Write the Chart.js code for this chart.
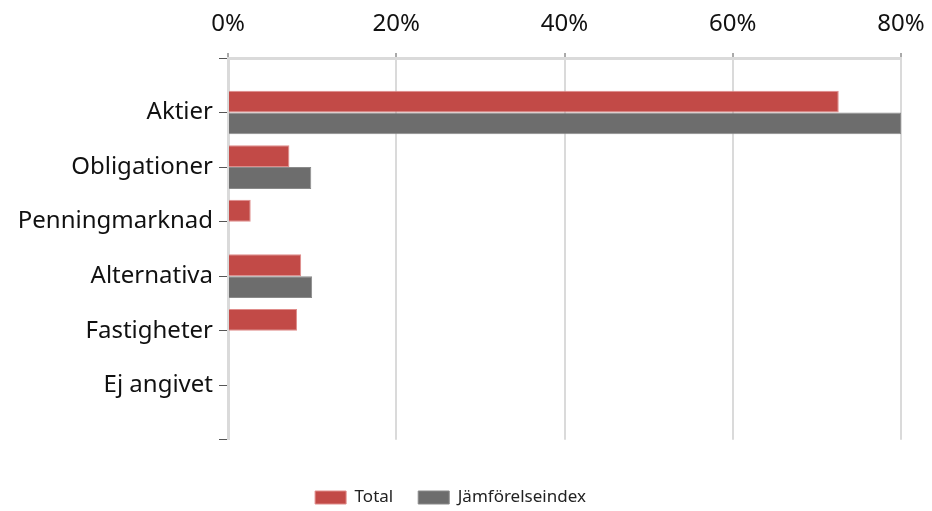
<!DOCTYPE html>
<html>
<head>
<meta charset="utf-8">
<script src="https://cdn.jsdelivr.net/npm/chart.js@4/dist/chart.umd.min.js"></script>
<style>
html,body{margin:0;padding:0;background:#fff;}
#wrap{width:932px;height:511px;position:relative;}
</style>
</head>
<body>
<div id="wrap"><canvas id="c" width="932" height="511"></canvas></div>
<script>
const categories = ["Aktier", "Obligationer", "Penningmarknad", "Alternativa", "Fastigheter", "Ej angivet"];
const totalValues = [72.6, 7.3, 2.7, 8.7, 8.2, null];
const indexValues = [80.0, 9.9, null, 10.0, null, null];
const xTicks = [0, 20, 40, 60, 80];
const seriesNames = ["Total", "Jämförelseindex"];

const FONT = "'Noto Sans', sans-serif";
const toPoints = arr => arr.map((v, i) => ({ x: v, y: i }));

new Chart(document.getElementById('c'), {
  type: 'bar',
  data: {
    datasets: [
      {
        label: seriesNames[0],
        data: toPoints(totalValues),
        backgroundColor: '#c24a47',
        borderColor: '#e08c8a',
        borderWidth: 1,
        categoryPercentage: 0.8,
        barPercentage: 1.0
      },
      {
        label: seriesNames[1],
        data: toPoints(indexValues),
        backgroundColor: '#6d6d6d',
        borderColor: '#8a8a8a',
        borderWidth: 1,
        categoryPercentage: 0.8,
        barPercentage: 1.0
      }
    ]
  },
  options: {
    indexAxis: 'y',
    responsive: false,
    animation: false,
    layout: { padding: { left: 0, right: 31, top: 0, bottom: -5 } },
    scales: {
      x: {
        type: 'linear',
        position: 'top',
        min: xTicks[0],
        max: xTicks[xTicks.length - 1],
        afterBuildTicks: s => { s.ticks = xTicks.map(v => ({ value: v })); },
        afterFit: s => { s.height = 58; s.paddingRight = 0; s.paddingLeft = 0; },
        ticks: {
          callback: v => v + '%',
          font: { family: FONT, size: 24 },
          color: '#111',
          padding: 14
        },
        grid: {
          color: '#dadada',
          lineWidth: 2,
          tickColor: '#555',
          tickLength: 5,
          tickWidth: 1
        },
        border: { color: '#dadada', width: 3 }
      },
      y: {
        type: 'linear',
        reverse: true,
        offset: false,
        min: -1,
        max: 6,
        afterBuildTicks: s => { s.ticks = [-1, 0, 1, 2, 3, 4, 5, 6].map(v => ({ value: v })); },
        afterFit: s => { s.width = 228; },
        ticks: {
          callback: v => (v >= 0 && v < categories.length) ? categories[v] : '',
          font: { family: FONT, size: 24 },
          color: '#111',
          padding: 6
        },
        grid: {
          offset: false,
          drawOnChartArea: false,
          tickColor: '#555',
          tickLength: 9,
          tickWidth: 1
        },
        border: { color: '#dadada', width: 3 }
      }
    },
    plugins: {
      legend: {
        position: 'bottom',
        title: { display: true, text: '', font: { size: 1 }, padding: { top: 23, bottom: 0 } },
        labels: {
          boxWidth: 31,
          boxHeight: 13,
          font: { family: FONT, size: 17 },
          color: '#222',
          padding: 25
        }
      },
      tooltip: { enabled: false }
    }
  }
});
</script>
</body>
</html>
